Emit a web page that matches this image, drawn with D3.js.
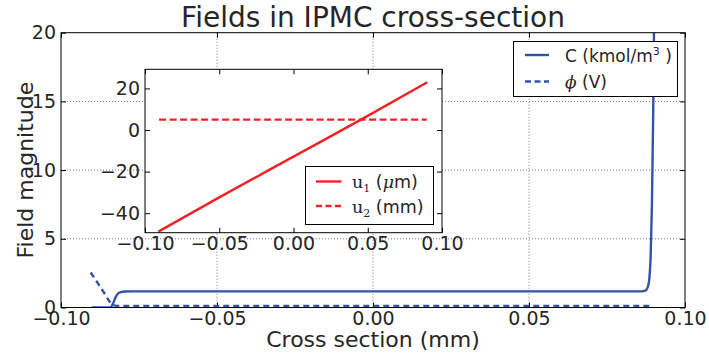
<!DOCTYPE html>
<html>
<head>
<meta charset="utf-8">
<script src="https://cdn.jsdelivr.net/npm/d3@7"></script>
<style>
  body { margin: 0; background: #fff; }
  svg { display: block; font-family: "DejaVu Sans", sans-serif; }
  .tick text { fill: #262626; }
</style>
</head>
<body>
<svg id="chart" width="709" height="355"></svg>
<script>
// ---- data ----
const xTicks = [-0.10, -0.05, 0.00, 0.05, 0.10];
const yTicks = [0, 5, 10, 15, 20];
const insetYTicks = [-40, -20, 0, 20];

// C (kmol/m^3)
const cX = [-0.0902, -0.0842, -0.0834, -0.0826, -0.0818, -0.0808, -0.0795, -0.0770, 0.0860, 0.0872, 0.0880, 0.0886, 0.0890, 0.0894, 0.0898, 0.0901];
const cY = [0, 0, 0.25, 0.7, 1.0, 1.12, 1.16, 1.17, 1.17, 1.22, 1.45, 2.2, 3.8, 7.5, 14, 21];
// phi (V)
const phiX = [-0.0905, -0.0880, -0.0860, -0.0845, -0.0835, -0.0820, 0.0897];
const phiY = [2.55, 1.7, 1.0, 0.45, 0.2, 0.12, 0.12];
// u1 (um)
const u1X = [-0.0910, -0.0500, 0.0000, 0.0500, 0.0901];
const u1Y = [-48.9, -32.4, -12.8, 6.8, 23.0];
// u2 (mm)
const u2X = [-0.0905, 0.0898];
const u2Y = [5.0, 5.0];

const blue = "#3352a8";
const red = "#ec2327";
const textCol = "#262626";

const svg = d3.select("#chart");

// ---- main axes ----
const m = {left: 61, right: 685, top: 32.7, bottom: 307.5};
const x = d3.scaleLinear().domain([-0.10, 0.10]).range([m.left, m.right]);
const y = d3.scaleLinear().domain([0, 20]).range([m.bottom, m.top]);

svg.append("defs").append("clipPath").attr("id", "mainClip")
  .append("rect")
    .attr("x", m.left).attr("y", m.top)
    .attr("width", m.right - m.left).attr("height", m.bottom - m.top);

// grid
const grid = svg.append("g").attr("stroke", "#777").attr("stroke-dasharray", "1,2").attr("stroke-width", 1);
grid.selectAll(".gx").data(xTicks.slice(1, -1)).enter().append("line")
    .attr("x1", (d) => x(d)).attr("x2", (d) => x(d))
    .attr("y1", m.top).attr("y2", m.bottom);
grid.selectAll(".gy").data(yTicks.slice(1, -1)).enter().append("line")
    .attr("y1", (d) => y(d)).attr("y2", (d) => y(d))
    .attr("x1", m.left).attr("x2", m.right);

const fmtX = (d) => d3.format(".2f")(d).replace("-", "\u2212");

svg.append("g")
    .attr("transform", `translate(0,${ m.bottom })`)
    .call(d3.axisBottom(x).tickValues(xTicks).tickSize(-5).tickPadding(4).tickFormat(fmtX))
    .call((g) => g.select(".domain").remove())
    .selectAll("text").attr("font-size", 19).attr("font-family", "DejaVu Sans");

svg.append("g")
    .attr("transform", `translate(${ m.left },0)`)
    .call(d3.axisLeft(y).tickValues(yTicks).tickSize(-5).tickPadding(5).tickFormat(d3.format("d")))
    .call((g) => g.select(".domain").remove())
    .selectAll("text").attr("font-size", 19).attr("font-family", "DejaVu Sans");

svg.append("g")
    .attr("transform", `translate(0,${ m.top })`)
    .call(d3.axisTop(x).tickValues(xTicks).tickSize(-5).tickFormat(""))
    .call((g) => g.select(".domain").remove());

svg.append("g")
    .attr("transform", `translate(${ m.right },0)`)
    .call(d3.axisRight(y).tickValues(yTicks).tickSize(-5).tickFormat(""))
    .call((g) => g.select(".domain").remove());

// curves
const toPts = (xs, ys) => xs.map((v, i) => [v, ys[i]]);
const line = d3.line().x((d) => x(d[0])).y((d) => y(d[1])).curve(d3.curveMonotoneX);

const curves = svg.append("g").attr("clip-path", "url(#mainClip)");
curves.append("path")
    .attr("d", line(toPts(cX, cY)))
    .attr("fill", "none").attr("stroke", blue).attr("stroke-width", 2.4);
curves.append("path")
    .attr("d", line(toPts(phiX, phiY)))
    .attr("fill", "none").attr("stroke", blue).attr("stroke-width", 2.4)
    .attr("stroke-dasharray", "6,4");

svg.append("rect")
    .attr("x", m.left).attr("y", m.top)
    .attr("width", m.right - m.left).attr("height", m.bottom - m.top)
    .attr("fill", "none").attr("stroke", "#000").attr("stroke-width", 1);

// main legend
const lg = svg.append("g");
lg.append("rect")
    .attr("x", 513.5).attr("y", 41.5).attr("width", 164).attr("height", 55)
    .attr("fill", "#fff").attr("stroke", "#000").attr("stroke-width", 1);
lg.append("line").attr("x1", 525).attr("x2", 549).attr("y1", 55).attr("y2", 55)
    .attr("stroke", blue).attr("stroke-width", 2.4);
lg.append("line").attr("x1", 525).attr("x2", 549).attr("y1", 81.5).attr("y2", 81.5)
    .attr("stroke", blue).attr("stroke-width", 2.4).attr("stroke-dasharray", "6,3.5");
const t1 = lg.append("text").attr("x", 565).attr("y", 61.5).attr("font-size", 17).attr("fill", textCol);
t1.append("tspan").text("C (kmol/m");
t1.append("tspan").attr("font-size", 11).attr("dy", -7).text("3");
t1.append("tspan").attr("dy", 7).text(" )");
const t2 = lg.append("text").attr("x", 565).attr("y", 88).attr("font-size", 17).attr("fill", textCol);
t2.append("tspan").attr("font-family", "DejaVu Serif").attr("font-style", "italic").text("\u03d5");
t2.append("tspan").text(" (V)");

// ---- inset axes ----
const n = {left: 145, right: 442, top: 69.3, bottom: 232.7};
const xi = d3.scaleLinear().domain([-0.10, 0.10]).range([n.left, n.right]);
const yi = d3.scaleLinear().domain([-49.4, 29.2]).range([n.bottom, n.top]);

svg.append("rect")
    .attr("x", n.left).attr("y", n.top)
    .attr("width", n.right - n.left).attr("height", n.bottom - n.top)
    .attr("fill", "#fff");

svg.append("defs").append("clipPath").attr("id", "insetClip")
  .append("rect")
    .attr("x", n.left).attr("y", n.top)
    .attr("width", n.right - n.left).attr("height", n.bottom - n.top);

svg.append("g")
    .attr("transform", `translate(0,${ n.bottom })`)
    .call(d3.axisBottom(xi).tickValues(xTicks).tickSize(-5).tickPadding(4).tickFormat(fmtX))
    .call((g) => g.select(".domain").remove())
    .selectAll("text").attr("font-size", 19).attr("font-family", "DejaVu Sans");

svg.append("g")
    .attr("transform", `translate(${ n.left },0)`)
    .call(d3.axisLeft(yi).tickValues(insetYTicks).tickSize(-5).tickPadding(5)
      .tickFormat((d) => d3.format("d")(d).replace("-", "\u2212")))
    .call((g) => g.select(".domain").remove())
    .selectAll("text").attr("font-size", 19).attr("font-family", "DejaVu Sans");

svg.append("g")
    .attr("transform", `translate(0,${ n.top })`)
    .call(d3.axisTop(xi).tickValues(xTicks).tickSize(-5).tickFormat(""))
    .call((g) => g.select(".domain").remove());

svg.append("g")
    .attr("transform", `translate(${ n.right },0)`)
    .call(d3.axisRight(yi).tickValues(insetYTicks).tickSize(-5).tickFormat(""))
    .call((g) => g.select(".domain").remove());

const linei = d3.line().x((d) => xi(d[0])).y((d) => yi(d[1])).curve(d3.curveMonotoneX);
const icurves = svg.append("g").attr("clip-path", "url(#insetClip)");
icurves.append("path")
    .attr("d", linei(toPts(u1X, u1Y)))
    .attr("fill", "none").attr("stroke", red).attr("stroke-width", 2.4);
icurves.append("path")
    .attr("d", linei(toPts(u2X, u2Y)))
    .attr("fill", "none").attr("stroke", red).attr("stroke-width", 2.4)
    .attr("stroke-dasharray", "7,3.5");

svg.append("rect")
    .attr("x", n.left).attr("y", n.top)
    .attr("width", n.right - n.left).attr("height", n.bottom - n.top)
    .attr("fill", "none").attr("stroke", "#000").attr("stroke-width", 1);

// inset legend
const il = svg.append("g");
il.append("rect")
    .attr("x", 305.5).attr("y", 166.5).attr("width", 128).attr("height", 58)
    .attr("fill", "#fff").attr("stroke", "#000").attr("stroke-width", 1);
il.append("line").attr("x1", 316).attr("x2", 341.5).attr("y1", 181.5).attr("y2", 181.5)
    .attr("stroke", red).attr("stroke-width", 2.4);
il.append("line").attr("x1", 316).attr("x2", 341.5).attr("y1", 206).attr("y2", 206)
    .attr("stroke", red).attr("stroke-width", 2.4).attr("stroke-dasharray", "6,3.5");

const uLabel = (yy, sub, unitMath, unitRest) => {
  const t = il.append("text").attr("x", 352).attr("y", yy).attr("font-size", 17.5).attr("fill", textCol);
  t.append("tspan").attr("font-family", "DejaVu Serif").text("u");
  t.append("tspan").attr("font-family", "DejaVu Serif").attr("font-size", 11).attr("dy", 4).text(sub);
  t.append("tspan").attr("dy", -4).text("  (");
  if (unitMath) t.append("tspan").attr("font-family", "DejaVu Serif").attr("font-style", "italic").text(unitMath);
  t.append("tspan").text(unitRest);
};
uLabel(188, "1", "\u03bc", "m)");
uLabel(212.5, "2", null, "mm)");

// ---- titles ----
svg.append("text")
    .attr("x", (m.left + m.right) / 2).attr("y", 26.5)
    .attr("text-anchor", "middle").attr("font-size", 28).attr("fill", textCol)
    .text("Fields in IPMC cross-section");

svg.append("text")
    .attr("x", (m.left + m.right) / 2).attr("y", 347)
    .attr("text-anchor", "middle").attr("font-size", 22).attr("fill", textCol)
    .text("Cross section (mm)");

svg.append("text")
    .attr("transform", `translate(33,${ (m.top + m.bottom) / 2 }) rotate(-90)`)
    .attr("text-anchor", "middle").attr("font-size", 22).attr("fill", textCol)
    .text("Field magnitude");
</script>
</body>
</html>
